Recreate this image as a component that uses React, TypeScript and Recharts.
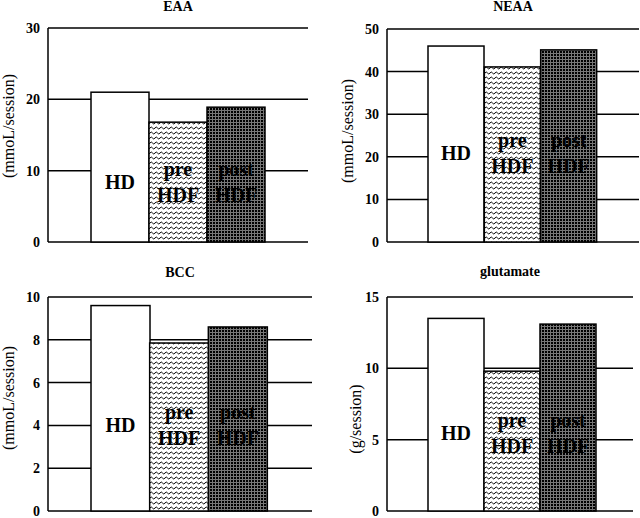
import React from 'react';
import { BarChart, Bar, XAxis, YAxis, CartesianGrid, Label } from 'recharts';

// ---- data ----
const categories = ['HD', 'pre HDF', 'post HDF'];
const categoryLines = [['HD'], ['pre', 'HDF'], ['post', 'HDF']];
const eaaValues = [21, 16.8, 18.9];
const neaaValues = [46, 41.1, 45.1];
const bccValues = [9.6, 7.85, 8.6];
const glutamateValues = [13.5, 9.8, 13.1];
const eaaTicks = [0, 10, 20, 30];
const neaaTicks = [0, 10, 20, 30, 40, 50];
const bccTicks = [0, 2, 4, 6, 8, 10];
const glutamateTicks = [0, 5, 10, 15];
const titles = ['EAA', 'NEAA', 'BCC', 'glutamate'];
const yLabels = ['(mmoL/session)', '(mmoL/session)', '(mmoL/session)', '(g/session)'];
const labelLevels = [8.4, 21, 4.0, 5.5];

const SERIF = '"Liberation Serif", "Times New Roman", Times, serif';
const fills = ['#ffffff', 'url(#wavePat)', 'url(#dotPat)'];

const build = (vals: number[]) => categories.map((c, i) => ({ name: c, value: vals[i], idx: i }));

const panels = [
  { data: build(eaaValues), ticks: eaaTicks, title: titles[0], yLabel: yLabels[0], level: labelLevels[0],
    left: 0, top: 0, w: 320, h: 250, margin: { top: 28, right: 12, bottom: 8, left: 0 }, yw: 48,
    pad: { left: 43, right: 43 }, titleY: 7, labX: 8, labY: 126 },
  { data: build(neaaValues), ticks: neaaTicks, title: titles[1], yLabel: yLabels[1], level: labelLevels[1],
    left: 320, top: 0, w: 320, h: 250, margin: { top: 29, right: 1, bottom: 8, left: 0 }, yw: 67,
    pad: { left: 41, right: 42 }, titleY: 7, labX: 27, labY: 131 },
  { data: build(bccValues), ticks: bccTicks, title: titles[2], yLabel: yLabels[2], level: labelLevels[2],
    left: 0, top: 255, w: 320, h: 263, margin: { top: 42, right: 8, bottom: 7, left: 0 }, yw: 48,
    pad: { left: 43, right: 45 }, titleY: 18, labX: 8, labY: 143 },
  { data: build(glutamateValues), ticks: glutamateTicks, title: titles[3], yLabel: yLabels[3], level: labelLevels[3],
    left: 320, top: 255, w: 320, h: 263, margin: { top: 42, right: 7, bottom: 7, left: 0 }, yw: 67,
    pad: { left: 41, right: 37 }, titleY: 17, labX: 35, labY: 164 },
];

const makeShape = (level: number) => (props: any) => {
  const { x, y, width, height, payload } = props;
  const i = payload.idx;
  const bottom = y + height;
  const ppu = payload.value ? height / payload.value : 0;
  const cy = bottom - level * ppu;
  const lines = categoryLines[i];
  const cx = x + width / 2;
  return (
    <g>
      <rect x={x} y={y} width={width} height={height} fill={fills[i]} stroke="#000" strokeWidth={1.5} />
      {lines.map((t, k) => {
        const off = lines.length === 1 ? 0 : (k === 0 ? -13 : 13);
        return (
          <text key={k} x={cx} y={cy + off} textAnchor="middle" dominantBaseline="central"
            fontFamily={SERIF} fontWeight="bold" fontSize={20} fill="#000">
            {t}
          </text>
        );
      })}
    </g>
  );
};

const Panel = ({ p }: { p: any }) => {
  const max = p.ticks[p.ticks.length - 1];
  return (
    <div style={{ position: 'absolute', left: p.left, top: p.top, width: p.w, height: p.h }}>
      <div style={{ position: 'absolute', left: p.margin.left + p.yw, width: p.w - p.margin.left - p.yw - p.margin.right,
        top: p.titleY - 10, height: 20, lineHeight: '20px', textAlign: 'center', fontFamily: SERIF,
        fontWeight: 'bold', fontSize: 14, color: '#000' }}>{p.title}</div>
      <BarChart width={p.w} height={p.h} data={p.data} margin={p.margin} barCategoryGap={0} barGap={0}>
        <CartesianGrid horizontal vertical={false} stroke="#000" strokeWidth={1.5} />
        <XAxis dataKey="name" hide padding={p.pad} />
        <YAxis domain={[0, max]} ticks={p.ticks} interval={0} width={p.yw} tickLine={false} tickSize={0} tickMargin={8}
          axisLine={{ stroke: '#000', strokeWidth: 1.5 }}
          tick={{ fontFamily: SERIF, fontWeight: 'bold', fontSize: 14, fill: '#000' }}>
          <Label content={() => (
            <text x={p.labX} y={p.labY} transform={`rotate(-90, ${p.labX}, ${p.labY})`} textAnchor="middle"
              dominantBaseline="central" fontFamily={SERIF} fontSize={16} fill="#000">{p.yLabel}</text>
          )} />
        </YAxis>
        <YAxis yAxisId="right" orientation="right" width={0} tick={false} tickLine={false}
          axisLine={{ stroke: '#000', strokeWidth: 1.5 }} />
        <Bar dataKey="value" isAnimationActive={false} shape={makeShape(p.level)} />
      </BarChart>
    </div>
  );
};

export default function App() {
  return (
    <div style={{ position: 'absolute', left: 0, top: 0, width: 640, height: 518, background: '#fff', overflow: 'hidden' }}>
      <svg width={0} height={0} style={{ position: 'absolute' }}>
        <defs>
          <pattern id="wavePat" patternUnits="userSpaceOnUse" width={5} height={5}>
            <rect x={0} y={0} width={5} height={5} fill="#fff" />
            <path d="M0 3 Q1.25 1 2.5 3 T5 3" fill="none" stroke="#000" strokeWidth={1} />
          </pattern>
          <pattern id="dotPat" patternUnits="userSpaceOnUse" width={3} height={3}>
            <rect x={0} y={0} width={3} height={3} fill="#777" />
            <rect x={0} y={0} width={2} height={2} fill="#000" />
          </pattern>
        </defs>
      </svg>
      {panels.map((p, i) => <Panel key={i} p={p} />)}
    </div>
  );
}
